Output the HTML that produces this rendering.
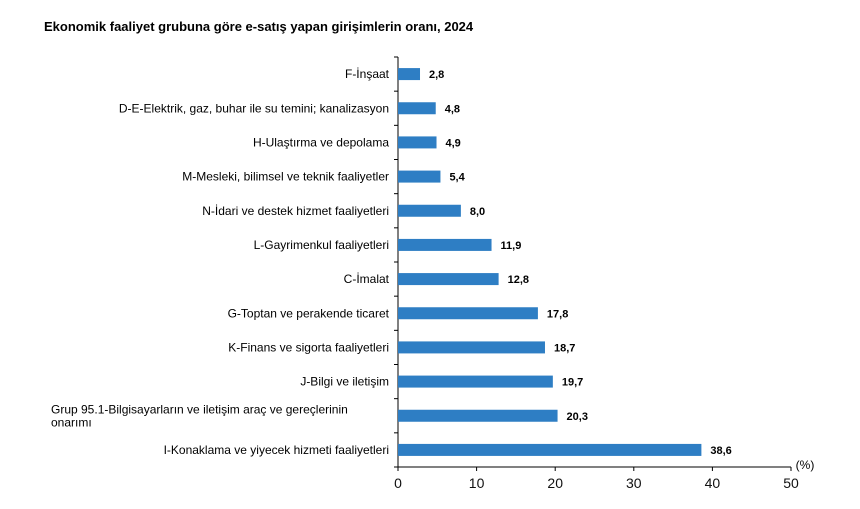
<!DOCTYPE html>
<html><head><meta charset="utf-8"><style>
body{margin:0;background:#fff;font-family:"Liberation Sans",sans-serif}
</style></head><body>
<svg width="860" height="504" xmlns="http://www.w3.org/2000/svg" font-family="Liberation Sans, sans-serif">
<text x="44" y="31" font-size="13" font-weight="bold" fill="#000">Ekonomik faaliyet grubuna göre e-satış yapan girişimlerin oranı, 2024</text>
<g id="plot"></g>
</svg>
<script>
const categories=["F-İnşaat","D-E-Elektrik, gaz, buhar ile su temini; kanalizasyon","H-Ulaştırma ve depolama","M-Mesleki, bilimsel ve teknik faaliyetler","N-İdari ve destek hizmet faaliyetleri","L-Gayrimenkul faaliyetleri","C-İmalat","G-Toptan ve perakende ticaret","K-Finans ve sigorta faaliyetleri","J-Bilgi ve iletişim","Grup 95.1-Bilgisayarların ve iletişim araç ve gereçlerinin|onarımı","I-Konaklama ve yiyecek hizmeti faaliyetleri"];
const values=[2.8,4.8,4.9,5.4,8.0,11.9,12.8,17.8,18.7,19.7,20.3,38.6];
const ticks=[0,10,20,30,40,50];
const ns="http://www.w3.org/2000/svg";
const g=document.getElementById('plot');
const X0=398,X1=791,Y0=57,Y1=467,MAX=50;
const xs=v=>X0+(v/MAX)*(X1-X0);
const band=(Y1-Y0)/categories.length;
function el(t,a){const e=document.createElementNS(ns,t);for(const k in a)e.setAttribute(k,a[k]);g.appendChild(e);return e;}
let ax=el('line',{x1:X0,y1:Y0,x2:X0,y2:Y1,stroke:'#000','stroke-width':1});


let bx=el('line',{x1:X0,y1:Y1,x2:X1,y2:Y1,stroke:'#000','stroke-width':1});


for(let i=0;i<=categories.length;i++){
  const y=Y0+i*band;
  el('line',{x1:X0-4,y1:y,x2:X0,y2:y,stroke:'#000'});
}
ticks.forEach(t=>{
  el('line',{x1:xs(t),y1:Y1,x2:xs(t),y2:Y1+4,stroke:'#000'});
  const tx=el('text',{x:xs(t),y:488,'font-size':14,'text-anchor':'middle',fill:'#111'});
  tx.textContent=t;
  
  
});
const unit=el('text',{x:805,y:469,'font-size':12,'text-anchor':'middle',fill:'#000'});
unit.textContent='(%)';


categories.forEach((c,i)=>{
  const cy=Y0+band*i+band/2;
  const r=el('rect',{x:X0,y:cy-6,width:xs(values[i])-X0,height:12,fill:'#2e7ec4'});
  
  
  const v=el('text',{x:xs(values[i])+9,y:cy+4,'font-size':11,'font-weight':'bold',fill:'#000'});
  v.textContent=values[i].toFixed(1).replace('.',',');
  
  
  const parts=c.split('|');
  const l=el('text',{x:X0-9,y:cy+4-(parts.length-1)*6.5,'font-size':12,'text-anchor':'end',fill:'#000'});
  
  
  if(parts.length===1){l.textContent=c;}
  else{
    l.setAttribute('text-anchor','start');l.setAttribute('x',51);
    parts.forEach((p,j)=>{const s=document.createElementNS(ns,'tspan');s.setAttribute('x',51);if(j>0)s.setAttribute('dy',13);s.textContent=p;l.appendChild(s);});
  }
});
</script>
</body></html>
